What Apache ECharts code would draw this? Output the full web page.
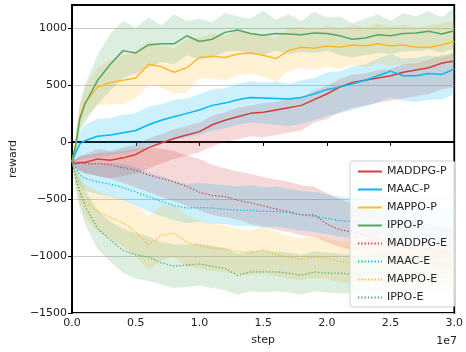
<!DOCTYPE html>
<html>
<head>
<meta charset="utf-8">
<script src="https://cdn.jsdelivr.net/npm/echarts@6/dist/echarts.min.js"></script>
<style>
  html, body { margin: 0; padding: 0; background: #fff; }
  #chart { width: 466px; height: 352px; }
</style>
</head>
<body>
<div id="chart"></div>
<script>
// steps, in units of 1e6
const steps = [0, 0.3, 0.6, 1, 2, 3, 4, 5, 6, 7, 8, 9, 10, 11, 12, 13, 14, 15, 16, 17, 18, 19, 20, 21, 22, 23, 24, 25, 26, 27, 28, 29, 30];
const yTicks = [-1500, -1000, -500, 0, 500, 1000];

// mean curves
const maddpgP = [-170, -190, -180, -180, -150, -160, -140, -110, -50, -10, 30, 60, 90, 150, 190, 220, 250, 260, 280, 300, 320, 370, 420, 480, 520, 540, 560, 580, 610, 630, 650, 690, 710];
const maacP = [-170, -90, -20, 10, 50, 60, 80, 100, 150, 190, 220, 250, 280, 320, 340, 370, 390, 385, 380, 375, 390, 420, 460, 480, 510, 540, 580, 620, 580, 580, 600, 590, 640];
const mappoP = [-170, -10, 210, 340, 480, 520, 540, 560, 680, 660, 610, 650, 740, 750, 740, 770, 780, 760, 730, 800, 830, 820, 840, 830, 850, 840, 860, 840, 850, 830, 830, 850, 880];
const ippoP = [-170, -20, 200, 330, 540, 680, 800, 780, 850, 860, 860, 930, 880, 900, 960, 980, 950, 935, 950, 945, 940, 955, 950, 930, 900, 910, 940, 930, 950, 955, 970, 945, 975];
const maddpgE = [-170, -190, -185, -190, -190, -200, -225, -250, -290, -320, -350, -390, -440, -470, -480, -510, -535, -560, -590, -610, -640, -640, -720, -770, -790, -820, -860, -880, -900, -920, -940, -960, -980];
const maacE = [-170, -230, -290, -320, -350, -370, -400, -440, -480, -520, -560, -580, -575, -580, -590, -600, -600, -610, -610, -620, -640, -650, -670, -690, -700, -710, -720, -730, -740, -750, -760, -770, -790];
const mappoE = [-170, -300, -420, -520, -610, -660, -710, -790, -900, -820, -800, -880, -910, -930, -940, -960, -970, -950, -990, -1010, -1030, -1010, -1020, -1050, -1060, -1050, -1050, -1060, -1060, -1060, -1070, -1080, -1090];
const ippoE = [-170, -330, -440, -560, -760, -860, -950, -990, -1010, -1060, -1090, -1080, -1070, -1090, -1110, -1170, -1140, -1140, -1140, -1150, -1170, -1140, -1150, -1150, -1160, -1150, -1150, -1150, -1160, -1150, -1140, -1150, -1140];

// shaded band edges (high / low)
const maddpgPHi = [-150, -150, -120, -110, -60, -80, -50, -20, 30, 70, 110, 140, 170, 230, 260, 300, 320, 340, 350, 380, 390, 450, 490, 550, 590, 600, 630, 640, 680, 690, 720, 760, 770];
const maddpgPLo = [-190, -230, -260, -280, -300, -320, -300, -280, -230, -190, -150, -120, -90, -40, 0, 20, 50, 40, 60, 80, 100, 170, 200, 260, 300, 320, 340, 360, 380, 400, 420, 460, 480];
const maacPHi = [-150, -10, 90, 150, 200, 210, 240, 250, 310, 330, 370, 380, 420, 460, 470, 510, 530, 520, 530, 510, 540, 560, 610, 620, 660, 680, 730, 770, 730, 740, 760, 740, 790];
const maacPLo = [-190, -180, -160, -150, -130, -120, -100, -80, -40, -10, 20, 40, 60, 100, 120, 150, 170, 160, 150, 140, 160, 190, 230, 250, 280, 310, 350, 390, 360, 350, 370, 370, 420];
const mappoPHi = [-150, 60, 330, 480, 650, 720, 760, 800, 880, 850, 820, 900, 920, 950, 930, 980, 960, 940, 910, 1000, 1010, 990, 1020, 990, 1030, 1000, 1040, 1010, 1030, 1000, 1020, 1040, 1060];
const mappoPLo = [-190, -80, 100, 220, 320, 330, 330, 380, 500, 480, 420, 430, 560, 560, 540, 580, 600, 570, 530, 620, 650, 630, 660, 640, 680, 650, 690, 660, 680, 650, 660, 690, 720];
const ippoPHi = [-150, 60, 320, 500, 760, 950, 1060, 1000, 1090, 1020, 1120, 1060, 1080, 1050, 1130, 1100, 1080, 1150, 1070, 1120, 1060, 1140, 1090, 1100, 1040, 1080, 1120, 1060, 1130, 1100, 1150, 1090, 1180];
const ippoPLo = [-190, -80, 100, 170, 330, 450, 560, 600, 650, 700, 680, 760, 720, 740, 790, 800, 770, 760, 800, 770, 790, 780, 800, 760, 740, 760, 780, 770, 790, 800, 810, 780, 820];
const maddpgEHi = [-150, -150, -130, -120, -100, -90, -80, -60, -50, -60, -80, -120, -150, -200, -230, -260, -280, -310, -330, -350, -380, -390, -450, -500, -540, -580, -620, -650, -670, -690, -720, -740, -760];
const maddpgELo = [-190, -230, -250, -270, -300, -320, -360, -400, -440, -480, -520, -560, -600, -640, -660, -680, -720, -740, -770, -790, -820, -830, -880, -920, -950, -980, -1010, -1030, -1050, -1070, -1090, -1110, -1120];
const maacEHi = [-150, -170, -190, -180, -180, -180, -190, -220, -270, -300, -340, -370, -360, -370, -380, -390, -380, -400, -390, -410, -430, -440, -460, -480, -490, -500, -510, -520, -540, -540, -560, -570, -590];
const maacELo = [-190, -300, -380, -430, -460, -480, -510, -560, -610, -650, -690, -710, -700, -720, -720, -740, -740, -750, -740, -760, -780, -790, -810, -830, -840, -850, -870, -880, -890, -900, -910, -920, -940];
const mappoEHi = [-150, -230, -300, -370, -430, -470, -500, -560, -650, -560, -560, -640, -690, -720, -730, -760, -780, -740, -790, -820, -850, -820, -840, -870, -880, -870, -860, -880, -870, -880, -890, -890, -900];
const mappoELo = [-190, -380, -540, -660, -790, -850, -920, -1000, -1120, -1040, -1010, -1090, -1110, -1130, -1140, -1160, -1170, -1150, -1180, -1200, -1210, -1190, -1200, -1230, -1240, -1230, -1230, -1240, -1240, -1240, -1250, -1260, -1270];
const ippoEHi = [-150, -250, -330, -420, -600, -700, -760, -800, -830, -880, -900, -900, -890, -910, -930, -980, -960, -950, -960, -970, -990, -960, -970, -980, -990, -970, -980, -970, -990, -980, -960, -970, -960];
const ippoELo = [-190, -430, -580, -720, -940, -1050, -1150, -1200, -1220, -1250, -1280, -1270, -1260, -1280, -1300, -1340, -1310, -1320, -1310, -1320, -1340, -1310, -1320, -1330, -1330, -1320, -1330, -1320, -1330, -1320, -1310, -1320, -1310];

const RED = '#d43d3d', BLUE = '#00b8f0', ORANGE = '#ffb828', GREEN = '#52a866';

const curves = [
  { name: 'MADDPG-P', color: RED, mean: maddpgP, hi: maddpgPHi, lo: maddpgPLo, dotted: false },
  { name: 'MAAC-P', color: BLUE, mean: maacP, hi: maacPHi, lo: maacPLo, dotted: false },
  { name: 'MAPPO-P', color: ORANGE, mean: mappoP, hi: mappoPHi, lo: mappoPLo, dotted: false },
  { name: 'IPPO-P', color: GREEN, mean: ippoP, hi: ippoPHi, lo: ippoPLo, dotted: false },
  { name: 'MADDPG-E', color: RED, mean: maddpgE, hi: maddpgEHi, lo: maddpgELo, dotted: true },
  { name: 'MAAC-E', color: BLUE, mean: maacE, hi: maacEHi, lo: maacELo, dotted: true },
  { name: 'MAPPO-E', color: ORANGE, mean: mappoE, hi: mappoEHi, lo: mappoELo, dotted: true },
  { name: 'IPPO-E', color: GREEN, mean: ippoE, hi: ippoEHi, lo: ippoELo, dotted: true }
];

const X = s => s * 1e6;
const fmtMinus = v => String(v).replace('-', '\u2212');

const bandSeries = curves.map(c => ({
  type: 'custom',
  name: c.name + ' band',
  silent: true,
  z: 1,
  clip: true,
  encode: { x: 0, y: [1, 2] },
  data: steps.map((s, i) => [X(s), c.hi[i], c.lo[i]]),
  renderItem: (params, api) => {
    if (params.dataIndex !== 0) return;
    const pts = [];
    for (let i = 0; i < steps.length; i++) pts.push(api.coord([X(steps[i]), c.hi[i]]));
    for (let i = steps.length - 1; i >= 0; i--) pts.push(api.coord([X(steps[i]), c.lo[i]]));
    return {
      type: 'polygon',
      shape: { points: pts },
      style: { fill: c.color, opacity: 0.2 }
    };
  }
}));

const lineSeries = curves.map(c => ({
  type: 'line',
  name: c.name,
  z: 3,
  symbol: 'none',
  silent: true,
  color: c.color,
  lineStyle: c.dotted
    ? { width: 1.3, color: c.color, type: [1.3, 2] }
    : { width: 1.5, color: c.color },
  data: steps.map((s, i) => [X(s), c.mean[i]])
}));

const chart = echarts.init(document.getElementById('chart'), null, { renderer: 'canvas' });
chart.setOption({
  animation: false,
  backgroundColor: '#fff',
  textStyle: { fontFamily: 'DejaVu Sans' },
  grid: {
    left: 66, right: 9, top: 5, bottom: 39,
    show: true, borderColor: '#000', borderWidth: 1.8, backgroundColor: 'transparent'
  },
  legend: {
    data: curves.map(c => c.name),
    orient: 'vertical',
    right: 11,
    bottom: 45,
    itemWidth: 24,
    itemHeight: 10,
    itemGap: 7,
    padding: [5, 8, 4, 7],
    backgroundColor: 'rgba(255,255,255,0.85)',
    borderColor: '#d0d0d0',
    borderWidth: 1,
    borderRadius: 3,
    itemStyle: { opacity: 0 },
    textStyle: { fontSize: 11, color: '#222', fontFamily: 'DejaVu Sans' }
  },
  xAxis: {
    type: 'value',
    min: 0,
    max: 3e7,
    interval: 5e6,
    name: 'step',
    nameLocation: 'middle',
    nameGap: 22,
    nameTextStyle: { fontSize: 11, color: '#222' },
    axisLine: { show: true, lineStyle: { color: '#000', width: 1.8 } },
    axisTick: { show: true, length: 4, lineStyle: { color: '#000', width: 1 } },
    axisLabel: { fontSize: 11, color: '#222', margin: 5, formatter: v => (v / 1e7).toFixed(1) },
    splitLine: { show: false }
  },
  yAxis: {
    type: 'value',
    min: -1500,
    max: 1200,
    interval: 500,
    name: 'reward',
    nameLocation: 'middle',
    nameGap: 48,
    nameRotate: 90,
    nameTextStyle: { fontSize: 11, color: '#222' },
    axisLine: { show: true, lineStyle: { color: '#000', width: 1.8 } },
    axisTick: { show: true, length: 4, lineStyle: { color: '#000', width: 1 }, customValues: yTicks },
    axisLabel: { fontSize: 11, color: '#222', margin: 5, customValues: yTicks, formatter: fmtMinus },
    splitLine: { show: true, lineStyle: { color: '#cccccc', width: 1.2 } }
  },
  graphic: [{
    type: 'text',
    right: 9,
    bottom: 5,
    style: { text: '1e7', fontSize: 11, fill: '#222', fontFamily: 'DejaVu Sans' }
  }],
  series: [...bandSeries, ...lineSeries]
});
</script>
</body>
</html>
